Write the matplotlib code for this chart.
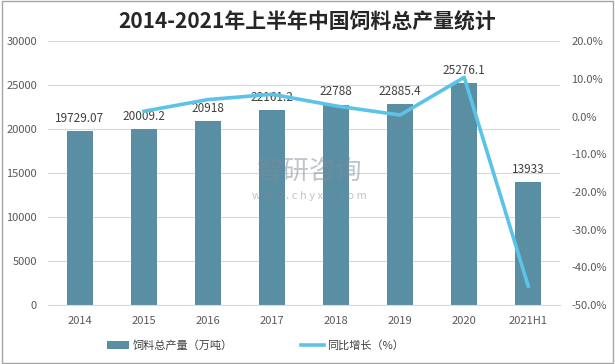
import matplotlib.pyplot as plt
from matplotlib.patches import Rectangle
import numpy as np

plt.rcParams['font.family'] = ['Noto Sans CJK SC', 'DejaVu Sans']

years = ['2014', '2015', '2016', '2017', '2018', '2019', '2020', '2021H1']
output = [19729.07, 20009.2, 20918, 22161.2, 22788, 22885.4, 25276.1, 13933]
growth_years = ['2015', '2016', '2017', '2018', '2019', '2020', '2021H1']
growth = [1.4, 4.5, 5.9, 2.8, 0.4, 10.4, -45.0]
labels = ['19729.07', '20009.2', '20918', '22161.2', '22788', '22885.4', '25276.1', '13933']

bar_color = '#5a8ea3'
line_color = '#5cc3e8'
tick_color = '#595959'

fig = plt.figure(figsize=(6.15, 3.64), dpi=100)
ax = fig.add_axes([0.078, 0.162, 0.833, 0.725])
x = np.arange(len(years))
ax.bar(x, output, width=0.4, color=bar_color, label='饲料总产量（万吨）', zorder=2)
for xi, v, s in zip(x, output, labels):
    ax.text(xi, v + 700, s, ha='center', va='bottom', fontsize=8.5, color='#404040', zorder=5)
ax.set_ylim(0, 30000)
ax.set_yticks(range(0, 30001, 5000))
ax.set_xlim(-0.5, len(years) - 0.5)
ax.set_xticks(x)
ax.set_xticklabels(years)
ax.grid(axis='y', color='#d9d9d9', linewidth=0.8, zorder=0)
for sp in ax.spines.values():
    sp.set_visible(False)
ax.spines['bottom'].set_visible(True)
ax.spines['bottom'].set_color('#d9d9d9')
ax.tick_params(axis='both', length=0, labelsize=8, colors=tick_color, pad=8)

ax2 = ax.twinx()
gx = [years.index(g) for g in growth_years]
ax2.plot(gx, growth, color=line_color, linewidth=2.6, label='同比增长（%）', zorder=4)
ax2.set_ylim(-50, 20)
ax2.set_yticks(range(-50, 21, 10))
ax2.set_yticklabels(['%.1f%%' % t for t in range(-50, 21, 10)])
for sp in ax2.spines.values():
    sp.set_visible(False)
ax2.tick_params(axis='y', length=0, labelsize=8, colors=tick_color, pad=8)

fig.text(0.5, 0.94, '2014-2021年上半年中国饲料总产量统计', ha='center', va='center',
         fontsize=15, fontweight='bold', color='#262626')

# watermark
fig.text(0.503, 0.528, '智研咨询', ha='center', va='center', fontsize=19, color='#7f8c99',
         alpha=0.5, zorder=10)
fig.text(0.503, 0.462, 'w w w . c h y x x . c o m', ha='center', va='center', fontsize=8,
         color='#7f8c99', alpha=0.5, zorder=10)

h1, l1 = ax.get_legend_handles_labels()
h2, l2 = ax2.get_legend_handles_labels()
fig.legend(h1 + h2, l1 + l2, loc='center', bbox_to_anchor=(0.415, 0.05), ncol=2, frameon=False,
           fontsize=8, labelcolor='#404040', columnspacing=6.2, handlelength=2.0,
           handletextpad=0.3, handleheight=0.7)

fig.patches.append(Rectangle((0.003, 0.003), 0.994, 0.994, transform=fig.transFigure,
                             fill=False, edgecolor='#a6a6a6', linewidth=1))

fig.savefig('out.png', dpi=100)
